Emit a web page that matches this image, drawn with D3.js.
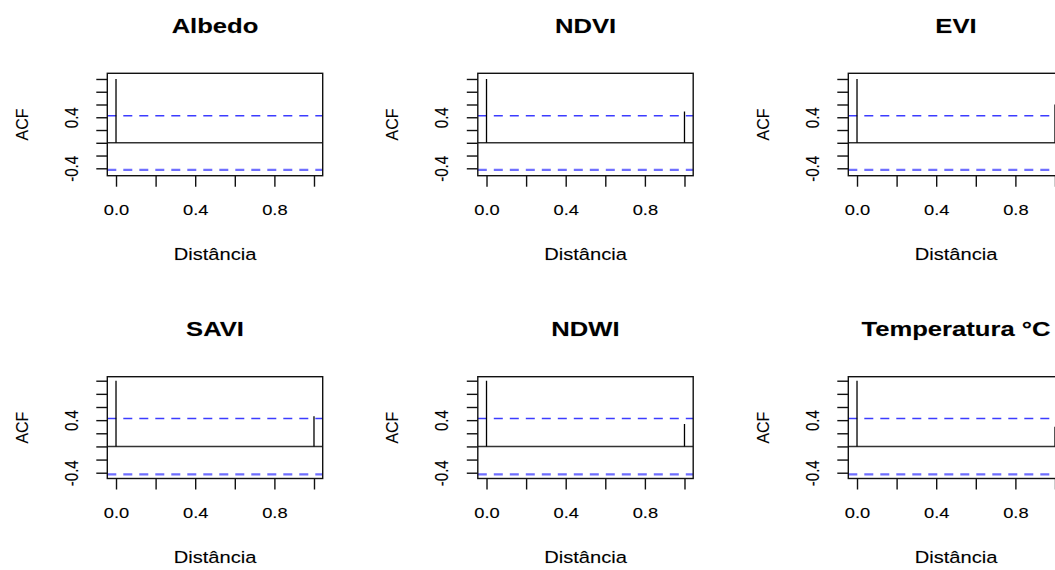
<!DOCTYPE html>
<html><head><meta charset="utf-8">
<script src="https://cdn.jsdelivr.net/npm/d3@7"></script>
<style>
body{margin:0;background:#fff}
svg{display:block}
text{font-family:"Liberation Sans",Arial,Helvetica,sans-serif;fill:#000;stroke:rgba(0,0,0,0.35);stroke-width:0.35px}
</style>
</head><body>
<svg id="chart" width="1055" height="570"></svg>
<script>
// ---- data ----
const titles = ["Albedo", "NDVI", "EVI", "SAVI", "NDWI", "Temperatura °C"];
const lags = [0, 1.0];
const acfAlbedo = [1, 0];
const acfNDVI = [1, 0.49];
const acfEVI = [1, 0.60];
const acfSAVI = [1, 0.46];
const acfNDWI = [1, 0.34];
const acfTemp = [1, 0.30];
const confLimit = 0.425;
const xTicks = [0, 0.2, 0.4, 0.6, 0.8, 1.0];
const xTickLabels = ["0.0", "0.4", "0.8"];
const yTicks = [-0.4, -0.2, 0, 0.2, 0.4, 0.6, 0.8, 1.0];
const yTickLabels = ["-0.4", "0.4"];
const xLabel = "Distância";
const yLabel = "ACF";

const series = [acfAlbedo, acfNDVI, acfEVI, acfSAVI, acfNDWI, acfTemp];

// ---- layout ----
const svg = d3.select("#chart");
const left0 = 107.3, colStep = 370.5;
const rowTop = [73.3, 376.7], rowH = [102.4, 101.8];
const rowDomain = [[-0.516, 1.089], [-0.488, 1.061]];
const bw = 215.4;
const SX = 1.22; // horizontal stretch of the source image
const fmt = d => d.toFixed(1);

titles.forEach((title, i) => {
  const col = i % 3, row = Math.floor(i / 3);
  const L = left0 + col * colStep, T = rowTop[row], bh = rowH[row];
  const x = d3.scaleLinear().domain([-0.044, 1.044]).range([L, L + bw]);
  const y = d3.scaleLinear().domain(rowDomain[row]).range([T + bh, T]);
  const g = svg.append("g");
  const clipId = "clip" + i;
  svg.append("clipPath").attr("id", clipId).append("rect")
    .attr("x", L).attr("y", T).attr("width", bw).attr("height", bh);
  const plot = g.append("g").attr("clip-path", `url(#${clipId})`);

  // zero line
  plot.append("line").attr("x1", L).attr("x2", L + bw)
    .attr("y1", y(0)).attr("y2", y(0)).attr("stroke", "#333").attr("stroke-width", 1.4);
  // confidence limits
  plot.append("line").attr("x1", L).attr("x2", L + bw)
    .attr("y1", y(confLimit)).attr("y2", y(confLimit))
    .attr("stroke", "#3c3cff").attr("stroke-width", 1.5)
    .attr("stroke-dasharray", "9,7");
  plot.append("line").attr("x1", L).attr("x2", L + bw)
    .attr("y1", y(-confLimit)).attr("y2", y(-confLimit))
    .attr("stroke", "#6f6fff").attr("stroke-width", 2.2)
    .attr("stroke-dasharray", "9,7");
  // spikes
  plot.selectAll("line.spike").data(lags.map((l, k) => [l, series[i][k]]))
    .join("line").attr("class", "spike")
    .attr("x1", d => x(d[0])).attr("x2", d => x(d[0]))
    .attr("y1", y(0)).attr("y2", d => y(d[1]))
    .attr("stroke", "#000").attr("stroke-width", 1.3);

  // box
  g.append("rect").attr("x", L).attr("y", T).attr("width", bw).attr("height", bh)
    .attr("fill", "none").attr("stroke", "#111").attr("stroke-width", 1.4);

  // x axis
  const xa = g.append("g").attr("transform", `translate(0,${T + bh})`)
    .call(d3.axisBottom(x).tickValues(xTicks).tickSize(11).tickSizeOuter(0)
      .tickFormat(d => { const s = fmt(d); return xTickLabels.includes(s) ? s : ""; }));
  xa.select(".domain").remove();
  xa.selectAll(".tick line").attr("stroke", "#111").attr("stroke-width", 1.4);
  xa.selectAll(".tick text").attr("y", 0).attr("dy", 0)
    .attr("font-size", 15).attr("fill", "#000")
    .attr("transform", `translate(0,39.3) scale(${SX},1)`);

  // y axis
  const ya = g.append("g").attr("transform", `translate(${L},0)`)
    .call(d3.axisLeft(y).tickValues(yTicks).tickSize(11).tickSizeOuter(0)
      .tickFormat(d => { const s = fmt(d); return yTickLabels.includes(s) ? s : ""; }));
  ya.select(".domain").remove();
  ya.selectAll(".tick line").attr("stroke", "#111").attr("stroke-width", 1.4);
  ya.selectAll(".tick text").attr("x", 0).attr("y", 0).attr("dy", 0)
    .attr("text-anchor", "middle").attr("font-size", 15).attr("fill", "#000")
    .attr("transform", `translate(-29.8,0) scale(${SX},1) rotate(-90)`);

  // title
  g.append("text").attr("text-anchor", "middle").attr("font-weight", "bold")
    .attr("font-size", 21)
    .attr("transform", `translate(${L + bw / 2},${T - 40.5}) scale(${SX},1)`)
    .text(title);
  // x label
  g.append("text").attr("text-anchor", "middle").attr("font-size", 16.5)
    .attr("transform", `translate(${L + bw / 2},${T + bh + 84}) scale(${SX},1)`)
    .text(xLabel);
  // y label
  g.append("text").attr("text-anchor", "middle").attr("font-size", 16)
    .attr("transform", `translate(${L - 79.7},${T + bh / 2}) scale(${SX * 0.85},1) rotate(-90)`)
    .text(yLabel);
});
</script>
</body></html>
